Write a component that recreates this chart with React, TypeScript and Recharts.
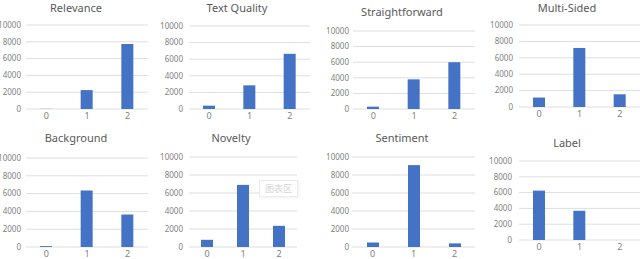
import { Bar, BarChart, CartesianGrid, XAxis, YAxis } from "recharts";

const categories = ["0", "1", "2"];
const yTicks = [0, 2000, 4000, 6000, 8000, 10000];

const relevance = [20, 2250, 7750];
const textQuality = [400, 2850, 6650];
const straightforward = [300, 3800, 6000];
const multiSided = [1150, 7200, 1550];
const background = [100, 6350, 3650];
const novelty = [800, 6900, 2350];
const sentiment = [500, 9100, 400];
const label = [6250, 3700, 0];

const titles = [
  "Relevance",
  "Text Quality",
  "Straightforward",
  "Multi-Sided",
  "Background",
  "Novelty",
  "Sentiment",
  "Label",
];
const seriesList = [relevance, textQuality, straightforward, multiSided, background, novelty, sentiment, label];

// plot rectangle + title centre for each small chart (page pixels)
const layout = [
  { x0: 26, x1: 148, yTop: 25, yBottom: 109, tx: 76, ty: 7, gap: 5 },
  { x0: 189, x1: 310, yTop: 26, yBottom: 109, tx: 237, ty: 7, gap: 6 },
  { x0: 353, x1: 475, yTop: 31, yBottom: 109, tx: 402, ty: 12, gap: 4 },
  { x0: 519, x1: 640, yTop: 25, yBottom: 107, tx: 567, ty: 7, gap: 6 },
  { x0: 26, x1: 148, yTop: 158, yBottom: 247, tx: 76, ty: 138, gap: 5 },
  { x0: 189, x1: 297, yTop: 157, yBottom: 247, tx: 231, ty: 138, gap: 6 },
  { x0: 352, x1: 475, yTop: 157, yBottom: 247, tx: 402, ty: 138, gap: 3 },
  { x0: 519, x1: 640, yTop: 161, yBottom: 240, tx: 567, ty: 143, gap: 7 },
];

const TICK = "#7f7f7f";
const AXIS_W = 34;
const TOP_PAD = 6;
const X_H = 16;

function SmallChart({ idx }: { idx: number }) {
  const l = layout[idx];
  const data = categories.map((c, i) => ({ cat: c, v: seriesList[idx][i] }));
  const width = AXIS_W + (l.x1 - l.x0);
  const height = TOP_PAD + (l.yBottom - l.yTop) + X_H;
  return (
    <>
      <div
        style={{
          position: "absolute",
          left: l.tx - 70,
          top: Math.max(0, l.ty - 8),
          width: 140,
          textAlign: "center",
          fontSize: 11,
          lineHeight: "15px",
          color: "#595959",
        }}
      >
        {titles[idx]}
      </div>
      <div style={{ position: "absolute", left: l.x0 - AXIS_W, top: l.yTop - TOP_PAD }}>
        <BarChart width={width} height={height} data={data} margin={{ top: TOP_PAD, right: 0, bottom: 0, left: 0 }}>
          <CartesianGrid vertical={false} stroke="#dedede" />
          <XAxis
            dataKey="cat"
            axisLine={false}
            tickLine={false}
            tickSize={0}
            tickMargin={4}
            height={X_H}
            interval={0}
            tick={{ fontSize: 9, fill: TICK }}
          />
          <YAxis
            domain={[0, 10000]}
            ticks={yTicks}
            width={AXIS_W}
            axisLine={false}
            tickLine={false}
            tickSize={0}
            tickMargin={l.gap}
            interval={0}
            tick={{ fontSize: 8, fill: TICK }}
          />
          <Bar dataKey="v" fill="#4472C4" barSize={12} isAnimationActive={false} />
        </BarChart>
      </div>
    </>
  );
}

export default function App() {
  return (
    <div
      style={{
        position: "absolute",
        left: 0,
        top: 0,
        width: 640,
        height: 259,
        overflow: "hidden",
        background: "#fff",
        fontFamily: "'Noto Sans', sans-serif",
      }}
    >
      {titles.map((_, i) => (
        <SmallChart key={i} idx={i} />
      ))}
      <div
        style={{
          position: "absolute",
          left: 259,
          top: 180,
          width: 37,
          height: 15,
          border: "1px solid #ececec",
          boxShadow: "1px 1px 2px rgba(0,0,0,0.06)",
          color: "#d4d4d4",
          fontSize: 9,
          lineHeight: "15px",
          textAlign: "center",
          fontFamily: "'Noto Sans CJK SC', sans-serif",
          background: "#fff",
        }}
      >
        图表区
      </div>
    </div>
  );
}
